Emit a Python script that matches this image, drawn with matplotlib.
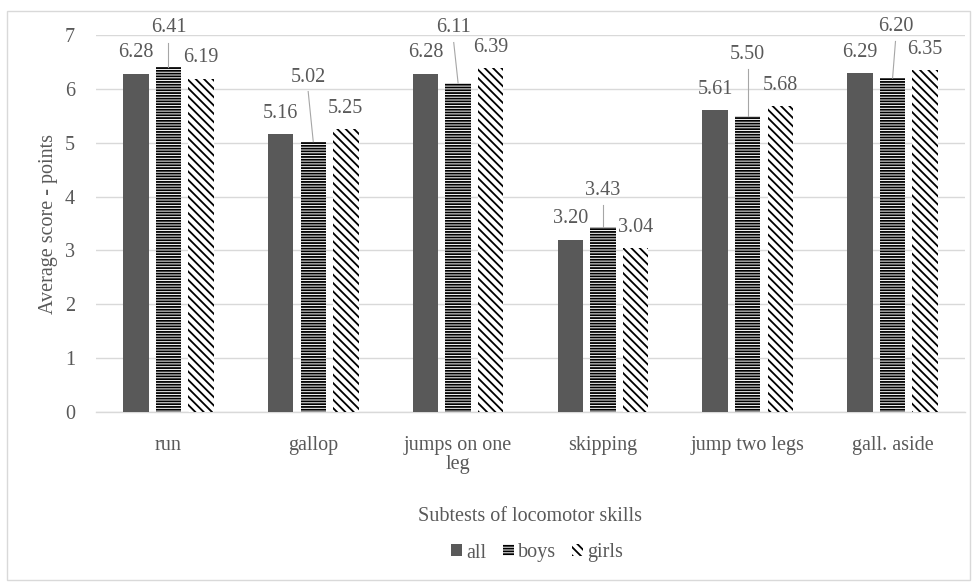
import numpy as np
import matplotlib
matplotlib.use("Agg")
import matplotlib.pyplot as plt
from matplotlib.patches import Rectangle, Patch

# Data
categories = ["run", "gallop", "jumps on one\nleg", "skipping", "jump two legs", "gall. aside"]
all_scores = [6.28, 5.16, 6.28, 3.20, 5.61, 6.29]
boys_scores = [6.41, 5.02, 6.11, 3.43, 5.50, 6.20]
girls_scores = [6.19, 5.25, 6.39, 3.04, 5.68, 6.35]
# where the boys labels were dragged to (x offset in categories, y in data units)
boys_label_pos = [(0.0, 7.13), (-0.035, 6.22), (-0.03, 7.13), (0.0, 4.12), (0.0, 6.63), (0.02, 7.15)]

txt = "#595959"
grid = "#d9d9d9"
plt.rcParams["font.family"] = ["Liberation Serif", "DejaVu Serif"]
plt.rcParams["hatch.linewidth"] = 1.3
fs = 14.5

fig = plt.figure(figsize=(9.78, 5.85), dpi=100)
fig.patches.append(
    Rectangle((7 / 978, 5 / 585), 963 / 978, 569 / 585, transform=fig.transFigure,
              fill=False, edgecolor=grid, linewidth=1.0)
)
ax = fig.add_axes([96 / 978, 173 / 585, 869 / 978, 377 / 585])

x = np.arange(len(categories))
w = 0.175
off = 0.225
ax.bar(x - off, all_scores, w, color="#595959", linewidth=0, zorder=3)
ax.bar(x, boys_scores, w, color="white", edgecolor="black", hatch="------", linewidth=0, zorder=3)
ax.bar(x + off, girls_scores, w, color="white", edgecolor="black", hatch="\\\\\\\\", linewidth=0, zorder=3)

for i in range(len(categories)):
    ax.annotate("%.2f" % all_scores[i], (x[i] - off, all_scores[i]), xytext=(0, 15),
                textcoords="offset points", ha="center", va="center", color=txt, fontsize=fs)
    ax.annotate("%.2f" % girls_scores[i], (x[i] + off, girls_scores[i]), xytext=(0, 15),
                textcoords="offset points", ha="center", va="center", color=txt, fontsize=fs)
    dx, ly = boys_label_pos[i]
    ax.text(x[i] + dx, ly, "%.2f" % boys_scores[i], ha="center", va="center",
            color=txt, fontsize=fs, clip_on=False)
    ax.plot([x[i] + dx, x[i]], [ly - 0.27, boys_scores[i]], color="#a6a6a6", linewidth=0.8,
            zorder=4, clip_on=False)

ax.set_xlim(-0.5, len(categories) - 0.5)
ax.set_ylim(0, 7)
ax.set_yticks(range(0, 8))
ax.yaxis.grid(True, color=grid, linewidth=1.0, zorder=0)
ax.set_axisbelow(True)
for s in ["top", "right", "left"]:
    ax.spines[s].set_visible(False)
ax.spines["bottom"].set_color(grid)
ax.spines["bottom"].set_linewidth(1.0)
ax.tick_params(length=0, labelsize=fs, labelcolor=txt)
ax.tick_params(axis="y", pad=15)
ax.tick_params(axis="x", pad=17)
ax.set_xticks(x)
ax.set_xticklabels(categories, linespacing=1.0)

ax.set_ylabel("Average score - points", fontsize=fs, color=txt, labelpad=5)
ax.set_xlabel("Subtests of locomotor skills", fontsize=fs, color=txt, labelpad=24)

handles = [
    Patch(facecolor="#595959", linewidth=0),
    Patch(facecolor="white", edgecolor="black", hatch="------", linewidth=0),
    Patch(facecolor="white", edgecolor="black", hatch="\\\\\\\\", linewidth=0),
]
fig.legend(handles, ["all", "boys", "girls"], loc="center", bbox_to_anchor=(537 / 978, 1 - 553 / 585),
           ncol=3, frameon=False, fontsize=fs, labelcolor=txt, handlelength=0.55, handleheight=0.55,
           handletextpad=0.2, columnspacing=0.8)

fig.savefig("out.png", dpi=100)
